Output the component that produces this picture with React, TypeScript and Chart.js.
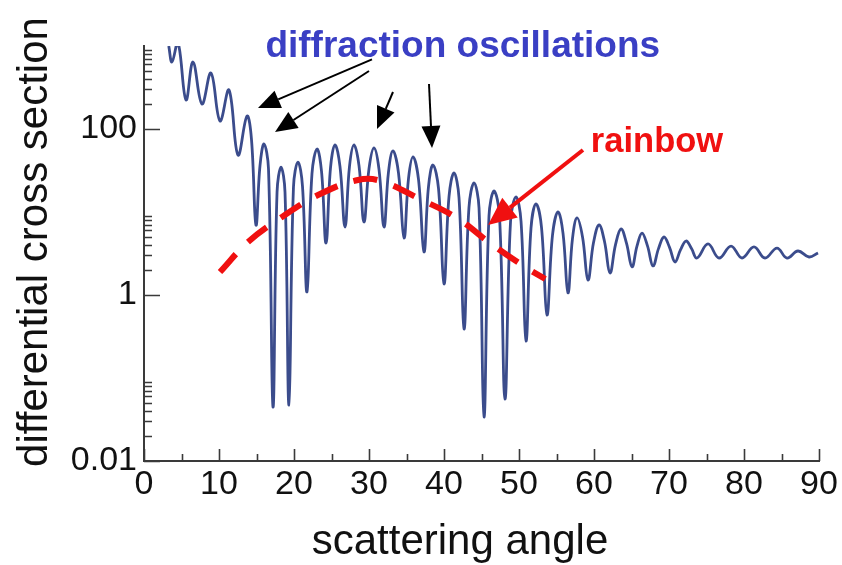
import React, { useEffect, useRef } from "react";
import { Chart, registerables } from "chart.js";

Chart.register(...registerables);

// ---- data (extrema plus mid-slope points) ----
const angles = [
  3.3, 3.73, 4.53, 5.6, 6.53, 7.73, 8.93, 10.13, 11.33, 12.53,
  13.73, 14.33, 14.93, 15.47, 16.0, 16.6, 17.2, 17.74, 18.27, 18.8,
  19.33, 19.93, 20.53, 21.13, 21.73, 22.4, 23.07, 23.67, 24.27, 24.87,
  25.47, 26.13, 26.8, 27.4, 28.0, 28.67, 29.33, 30.0, 30.67, 31.33,
  32.0, 32.6, 33.2, 33.93, 34.67, 35.27, 35.87, 36.6, 37.33, 37.93,
  38.53, 39.27, 40.0, 40.67, 41.33, 42.0, 42.67, 43.33, 44.0, 44.67,
  45.33, 46.0, 46.67, 47.4, 48.13, 48.87, 49.6, 50.27, 50.93, 51.6,
  52.27, 53.0, 53.73, 54.47, 55.2, 55.87, 56.53, 57.13, 57.73, 58.47,
  59.2, 59.93, 60.67, 61.4, 62.13, 62.87, 63.6, 64.33, 65.07, 65.73,
  66.4, 67.13, 67.87, 68.6, 69.33, 70.07, 70.8, 71.53, 72.27, 73.0,
  73.73, 75.2, 76.67, 78.27, 79.73, 81.33, 82.8, 84.4, 85.73, 87.2,
  88.67, 89.87,
];
const crossSection = [
  1000, 641, 1100, 224, 641, 200, 473, 125, 295, 48.6,
  143, 75.0, 6.97, 36.4, 65.9, 33.0, 0.0447, 17.4, 34.8, 17.4,
  0.0473, 20.0, 40, 20.5, 1.09, 29.2, 57.4, 30.8, 4.23, 34.2,
  64.2, 35.4, 6.6, 35.4, 64.2, 35.9, 7.58, 33.3, 59, 32.8,
  6.6, 30.5, 54.3, 29.6, 4.86, 25.4, 46, 24.7, 3.3, 20.1,
  36.8, 19.1, 1.36, 15.4, 29.5, 14.9, 0.389, 11.4, 22.4, 11.2,
  0.0339, 8.97, 17.9, 8.98, 0.0558, 7.63, 15.2, 7.74, 0.279, 6.39,
  12.5, 6.54, 0.574, 5.29, 10, 5.53, 1.06, 4.77, 8.47, 5.0,
  1.52, 4.25, 6.97, 4.41, 1.84, 4.04, 6.24, 4.21, 2.18, 3.88,
  5.58, 3.91, 2.24, 3.62, 5.0, 3.75, 2.5, 3.49, 4.47, 3.63,
  2.79, 4.12, 2.79, 3.89, 2.79, 3.79, 2.79, 3.68, 2.79, 3.39,
  2.87, 3.21,
];
const rainbowAngles = [10.13, 13.87, 18.4, 23.2, 28.53, 31.6, 36.8, 41.73, 46.13, 50.8, 53.5];
const rainbowValues = [1.89, 4.35, 8.71, 16.0, 24.3, 23.6, 14.3, 8.47, 4.23, 2.18, 1.56];

const xMajorTicks = [0, 10, 20, 30, 40, 50, 60, 70, 80, 90];
const xMinorTicks = [5, 15, 25, 35, 45, 55, 65, 75, 85];
const yLabelTicks = [0.01, 1, 100];
const yLabelText = ["0.01", "1", "100"];
const yMinorTicks = [
  0.02, 0.03, 0.04, 0.05, 0.06, 0.07, 0.08, 0.09,
  2, 3, 4, 5, 6, 7, 8, 9,
  200, 300, 400, 500, 600, 700, 800, 900,
];

const xTitle = "scattering angle";
const yTitle = "differential cross section";
const diffractionLabel = "diffraction oscillations";
const rainbowLabel = "rainbow";

// annotation anchors, in data coordinates [angle, value]
const diffractionLabelAt = [42.5, 737];
const rainbowLabelAt = [68.4, 52.8];
const blackArrows = [
  [[30.4, 690], [15.2, 179]],
  [[30.0, 500], [17.47, 92]],
  [[33.2, 279], [31.07, 100]],
  [[38.0, 349], [38.4, 59]],
];
const redArrow = [[58.53, 55.8], [45.87, 6.97]];

const FONT = "'Liberation Sans', Arial, Helvetica, sans-serif";

function drawArrow(ctx, x1, y1, x2, y2, color, width, headLen, headWidth) {
  const ang = Math.atan2(y2 - y1, x2 - x1);
  const bx = x2 - headLen * Math.cos(ang);
  const by = y2 - headLen * Math.sin(ang);
  ctx.save();
  ctx.strokeStyle = color;
  ctx.fillStyle = color;
  ctx.lineWidth = width;
  ctx.beginPath();
  ctx.moveTo(x1, y1);
  ctx.lineTo(bx, by);
  ctx.stroke();
  const px = (-Math.sin(ang) * headWidth) / 2;
  const py = (Math.cos(ang) * headWidth) / 2;
  ctx.beginPath();
  ctx.moveTo(x2, y2);
  ctx.lineTo(bx + px, by + py);
  ctx.lineTo(bx - px, by - py);
  ctx.closePath();
  ctx.fill();
  ctx.restore();
}

const overlayPlugin = {
  id: "overlay",
  afterDatasetsDraw(chart) {
    const { ctx, chartArea } = chart;
    const xs = chart.scales.x;
    const ys = chart.scales.y;
    ctx.save();
    ctx.strokeStyle = "#3a3a3a";
    ctx.lineWidth = 1.6;
    ctx.beginPath();
    yLabelTicks.forEach((v) => {
      const p = Math.round(ys.getPixelForValue(v)) + 0.5;
      ctx.moveTo(chartArea.left, p);
      ctx.lineTo(chartArea.left + 16, p);
    });
    yMinorTicks.forEach((v) => {
      const p = Math.round(ys.getPixelForValue(v)) + 0.5;
      ctx.moveTo(chartArea.left, p);
      ctx.lineTo(chartArea.left + 8, p);
    });
    xMajorTicks.forEach((v) => {
      const p = Math.round(xs.getPixelForValue(v)) + 0.5;
      ctx.moveTo(p, chartArea.bottom);
      ctx.lineTo(p, chartArea.bottom - 12);
    });
    xMinorTicks.forEach((v) => {
      const p = Math.round(xs.getPixelForValue(v)) + 0.5;
      ctx.moveTo(p, chartArea.bottom);
      ctx.lineTo(p, chartArea.bottom - 7);
    });
    ctx.stroke();
    ctx.restore();
  },
  afterDraw(chart) {
    const { ctx } = chart;
    const xs = chart.scales.x;
    const ys = chart.scales.y;
    const P = (pt) => [xs.getPixelForValue(pt[0]), ys.getPixelForValue(pt[1])];

    // axis titles
    ctx.save();
    ctx.fillStyle = "#111";
    ctx.font = `42px ${FONT}`;
    ctx.textAlign = "center";
    ctx.textBaseline = "alphabetic";
    ctx.fillText(xTitle, 460, 554);
    ctx.translate(47, 242);
    ctx.rotate(-Math.PI / 2);
    ctx.fillText(yTitle, 0, 0);
    ctx.restore();

    // annotation texts
    ctx.save();
    ctx.textAlign = "center";
    ctx.textBaseline = "alphabetic";
    ctx.font = `bold 37px ${FONT}`;
    ctx.fillStyle = "#3a3fc4";
    const d = P(diffractionLabelAt);
    ctx.fillText(diffractionLabel, d[0], d[1]);
    ctx.fillStyle = "#f01010";
    const r = P(rainbowLabelAt);
    ctx.font = `bold 34.5px ${FONT}`;
    ctx.fillText(rainbowLabel, r[0], r[1]);
    ctx.restore();

    blackArrows.forEach(([a, b]) => {
      const p1 = P(a);
      const p2 = P(b);
      drawArrow(ctx, p1[0], p1[1], p2[0], p2[1], "#000", 2, 22, 19);
    });
    const r1 = P(redArrow[0]);
    const r2 = P(redArrow[1]);
    drawArrow(ctx, r1[0], r1[1], r2[0], r2[1], "#f01010", 4, 28, 25);
  },
};

export default function App() {
  const canvasRef = useRef(null);
  useEffect(() => {
    document.body.style.margin = "0";
    const curve = angles.map((a, i) => ({ x: a, y: crossSection[i] }));
    const rainbow = rainbowAngles.map((a, i) => ({ x: a, y: rainbowValues[i] }));
    const chart = new Chart(canvasRef.current, {
      type: "line",
      data: {
        datasets: [
          {
            data: rainbow,
            borderColor: "#f01010",
            borderWidth: 6,
            borderDash: [24, 17],
            tension: 0.4,
            pointRadius: 0,
            order: 0,
          },
          {
            data: curve,
            borderColor: "#3b4c8c",
            borderWidth: 2.8,
            tension: 0.4,
            pointRadius: 0,
            order: 1,
          },
        ],
      },
      options: {
        animation: false,
        responsive: false,
        layout: { padding: { left: 0, top: 46, right: 23, bottom: 0 } },
        plugins: { legend: { display: false }, tooltip: { enabled: false } },
        scales: {
          x: {
            type: "linear",
            min: 0,
            max: 90,
            afterBuildTicks: (s) => {
              s.ticks = xMajorTicks.map((v) => ({ value: v }));
            },
            afterFit: (s) => {
              s.height = 104;
            },
            grid: { display: false, drawTicks: false },
            border: { display: true, color: "#3a3a3a", width: 2 },
            ticks: {
              font: { family: FONT, size: 34 },
              color: "#111",
              padding: 3,
              maxRotation: 0,
              autoSkip: false,
            },
          },
          y: {
            type: "logarithmic",
            min: 0.01,
            max: 1000,
            afterBuildTicks: (s) => {
              s.ticks = yLabelTicks.map((v) => ({ value: v }));
            },
            afterFit: (s) => {
              s.width = 144;
            },
            grid: { display: false, drawTicks: false },
            border: { display: true, color: "#3a3a3a", width: 2 },
            ticks: {
              font: { family: FONT, size: 34 },
              color: "#111",
              padding: 7,
              autoSkip: false,
              callback: (v) => {
                const i = yLabelTicks.indexOf(Number(v));
                return i >= 0 ? yLabelText[i] : "";
              },
            },
          },
        },
      },
      plugins: [overlayPlugin],
    });
    return () => chart.destroy();
  }, []);
  return (
    <div style={{ position: "absolute", left: 0, top: 0, width: 842, height: 565 }}>
      <canvas ref={canvasRef} width={842} height={565} />
    </div>
  );
}
